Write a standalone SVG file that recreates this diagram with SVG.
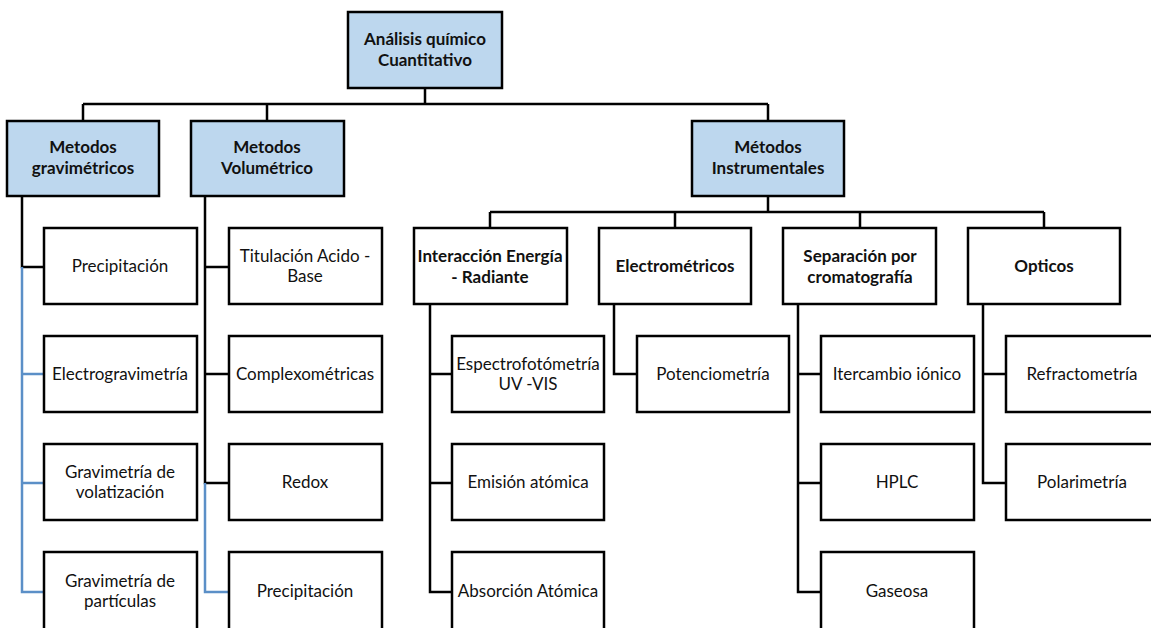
<svg xmlns="http://www.w3.org/2000/svg" width="1151" height="628" viewBox="0 0 1151 628">
  <style>
    .box { fill: #ffffff; stroke: #000000; stroke-width: 2.5; }
    .head { fill: #bdd7ee; stroke: #000000; stroke-width: 2.5; }
    .t { font-family: Lato, "Open Sans", "Liberation Sans", sans-serif; font-size: 17px; fill: #111111; text-anchor: middle; }
    .b { font-weight: bold; }
    .k { fill: none; stroke: #000000; stroke-width: 2.5; }
    .u { fill: none; stroke: #5b8fc7; stroke-width: 2.5; }
  </style>
  <rect width="1151" height="628" fill="#ffffff"/>

  <!-- connectors -->
  <g id="connectors">
    <path class="k" d="M425,88 V104 M83,104 H768 M83,104 V121 M267,104 V121 M768,104 V121"/>
    <!-- gravimetric branch -->
    <path class="k" d="M22,196 V267 H44"/>
    <path class="u" d="M22,267 V592 H44 M22,374 H44 M22,483 H44"/>
    <!-- volumetric branch -->
    <path class="k" d="M205,196 V483 H229 M205,267 H229 M205,374 H229"/>
    <path class="u" d="M205,483 V592 H229"/>
    <!-- instrumental branch -->
    <path class="k" d="M768,196 V212 M490,212 H1044 M490,212 V228 M675,212 V228 M860,212 V228 M1044,212 V228"/>
    <path class="k" d="M430,304 V592 H452 M430,374 H452 M430,483 H452"/>
    <path class="k" d="M614,304 V374 H637"/>
    <path class="k" d="M798,304 V592 H821 M798,374 H821 M798,483 H821"/>
    <path class="k" d="M983,304 V483 H1006 M983,374 H1006"/>
  </g>

  <!-- root -->
  <g id="root">
    <rect class="head" x="348" y="12" width="154" height="76"/>
    <text class="t b" x="425" y="45">Análisis químico</text>
    <text class="t b" x="425" y="66">Cuantitativo</text>
  </g>

  <!-- level 1 -->
  <g id="gravimetricos">
    <rect class="head" x="7" y="121" width="152" height="75"/>
    <text class="t b" x="83" y="153">Metodos</text>
    <text class="t b" x="83" y="174">gravimétricos</text>
  </g>
  <g id="volumetrico">
    <rect class="head" x="191" y="121" width="153" height="75"/>
    <text class="t b" x="267" y="153">Metodos</text>
    <text class="t b" x="267" y="174">Volumétrico</text>
  </g>
  <g id="instrumentales">
    <rect class="head" x="692" y="121" width="152" height="75"/>
    <text class="t b" x="768" y="153">Métodos</text>
    <text class="t b" x="768" y="174">Instrumentales</text>
  </g>

  <!-- gravimetric leaves -->
  <g id="g-precipitacion">
    <rect class="box" x="44" y="228" width="153" height="76"/>
    <text class="t" x="120" y="272">Precipitación</text>
  </g>
  <g id="g-electrogravimetria">
    <rect class="box" x="44" y="336" width="153" height="76"/>
    <text class="t" x="120" y="380">Electrogravimetría</text>
  </g>
  <g id="g-volatilizacion">
    <rect class="box" x="44" y="444" width="153" height="76"/>
    <text class="t" x="120" y="478">Gravimetría de</text>
    <text class="t" x="120" y="498">volatización</text>
  </g>
  <g id="g-particulas">
    <rect class="box" x="44" y="552" width="153" height="80"/>
    <text class="t" x="120" y="587">Gravimetría de</text>
    <text class="t" x="120" y="607">partículas</text>
  </g>

  <!-- volumetric leaves -->
  <g id="v-acido-base">
    <rect class="box" x="229" y="228" width="153" height="76"/>
    <text class="t" x="305" y="262">Titulación Acido -</text>
    <text class="t" x="305" y="282">Base</text>
  </g>
  <g id="v-complexometricas">
    <rect class="box" x="229" y="336" width="153" height="76"/>
    <text class="t" x="305" y="380">Complexométricas</text>
  </g>
  <g id="v-redox">
    <rect class="box" x="229" y="444" width="153" height="76"/>
    <text class="t" x="305" y="488">Redox</text>
  </g>
  <g id="v-precipitacion">
    <rect class="box" x="229" y="552" width="153" height="80"/>
    <text class="t" x="305" y="597">Precipitación</text>
  </g>

  <!-- instrumental groups -->
  <g id="interaccion">
    <rect class="box" x="414" y="228" width="153" height="76"/>
    <text class="t b" x="490" y="262">Interacción Energía</text>
    <text class="t b" x="490" y="283">- Radiante</text>
  </g>
  <g id="electrometricos">
    <rect class="box" x="599" y="228" width="152" height="76"/>
    <text class="t b" x="675" y="272">Electrométricos</text>
  </g>
  <g id="separacion">
    <rect class="box" x="783" y="228" width="153" height="76"/>
    <text class="t b" x="860" y="262">Separación por</text>
    <text class="t b" x="860" y="283">cromatografía</text>
  </g>
  <g id="opticos">
    <rect class="box" x="968" y="228" width="152" height="76"/>
    <text class="t b" x="1044" y="272">Opticos</text>
  </g>

  <!-- instrumental leaves -->
  <g id="espectrofotometria">
    <rect class="box" x="452" y="336" width="152" height="76"/>
    <text class="t" x="528" y="370">Espectrofotómetría</text>
    <text class="t" x="528" y="390">UV -VIS</text>
  </g>
  <g id="emision">
    <rect class="box" x="452" y="444" width="152" height="76"/>
    <text class="t" x="528" y="488">Emisión atómica</text>
  </g>
  <g id="absorcion">
    <rect class="box" x="452" y="552" width="152" height="80"/>
    <text class="t" x="528" y="597">Absorción Atómica</text>
  </g>
  <g id="potenciometria">
    <rect class="box" x="637" y="336" width="152" height="76"/>
    <text class="t" x="713" y="380">Potenciometría</text>
  </g>
  <g id="intercambio">
    <rect class="box" x="821" y="336" width="153" height="76"/>
    <text class="t" x="897" y="380">Itercambio iónico</text>
  </g>
  <g id="hplc">
    <rect class="box" x="821" y="444" width="153" height="76"/>
    <text class="t" x="897" y="488">HPLC</text>
  </g>
  <g id="gaseosa">
    <rect class="box" x="821" y="552" width="153" height="80"/>
    <text class="t" x="897" y="597">Gaseosa</text>
  </g>
  <g id="refractometria">
    <rect class="box" x="1006" y="336" width="153" height="76"/>
    <text class="t" x="1082" y="380">Refractometría</text>
  </g>
  <g id="polarimetria">
    <rect class="box" x="1006" y="444" width="153" height="76"/>
    <text class="t" x="1082" y="488">Polarimetría</text>
  </g>
</svg>
